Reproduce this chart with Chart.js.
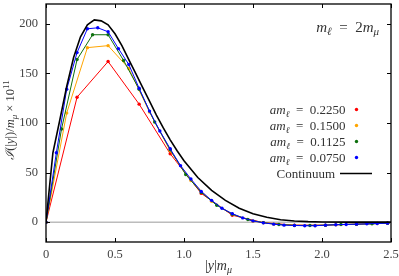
<!DOCTYPE html>
<html>
<head>
<meta charset="utf-8">
<script src="https://cdn.jsdelivr.net/npm/chart.js@4.4.0/dist/chart.umd.min.js"></script>
<style>
  html, body { margin: 0; padding: 0; background: #fff; }
</style>
</head>
<body>
<canvas id="myChart" width="399" height="276"></canvas>
<script>
const xTicks = [0, 0.5, 1, 1.5, 2, 2.5];
const yTicks = [0, 50, 100, 150, 200];
const seriesNames = ['0.2250', '0.1500', '0.1125', '0.0750'];
const seriesColors = ['#ff0000', '#ffa500', '#0d700d', '#0000ff'];

// am = 0.2250
const redX = [0, 0.225, 0.45, 0.675, 0.9, 1.125, 1.35, 1.575, 1.8, 2.025, 2.25, 2.475];
const redY = [0, 126, 162, 119, 69, 29, 7, -0.5, -3, -3, -2, -1];
// am = 0.1500
const orangeX = [0, 0.15, 0.3, 0.45, 0.6, 0.75, 0.9, 1.05, 1.2, 1.35, 1.5, 1.65, 1.8, 1.95, 2.1, 2.25, 2.4];
const orangeY = [0, 110, 176, 178, 155, 111, 72, 42, 21, 8, 1, -2, -3.2, -3.4, -2.6, -2, -1.3];
// am = 0.1125
const greenX = [0, 0.1125, 0.225, 0.3375, 0.45, 0.5625, 0.675, 0.7875, 0.9, 1.0125, 1.125, 1.2375,
                1.35, 1.4625, 1.575, 1.6875, 1.8, 1.9125, 2.025, 2.1375, 2.25, 2.3625, 2.475];
const greenY = [0, 94, 164, 189, 189, 163, 134, 101, 73, 48, 30, 17,
                8, 2.7, -0.5, -2.3, -3.2, -3.3, -3, -2.3, -2, -1.7, -1];
// am = 0.0750
const blueX = [0, 0.075, 0.15, 0.225, 0.3, 0.375, 0.45, 0.525, 0.6, 0.675, 0.75, 0.825,
               0.9, 0.975, 1.05, 1.125, 1.2, 1.275, 1.35, 1.425, 1.5, 1.575, 1.65, 1.725,
               1.8, 1.875, 1.95, 2.025, 2.1, 2.175, 2.25, 2.325, 2.4, 2.475];
const blueY = [0, 70, 134, 171, 195, 196, 192, 175, 159, 135, 112, 92,
               74, 57, 43.5, 31, 22, 14, 8.6, 4.3, 1.3, -0.7, -2, -3,
               -3.3, -3.6, -3.6, -3, -2.6, -2.3, -2, -1.7, -1.3, -1];
// continuum
const contX = [0, 0.05, 0.1, 0.15, 0.2, 0.25, 0.3, 0.35, 0.4, 0.45, 0.5, 0.55, 0.6, 0.65, 0.7,
               0.75, 0.8, 0.85, 0.9, 0.95, 1.0, 1.1, 1.2, 1.3, 1.4, 1.5, 1.6, 1.7, 1.8, 1.9,
               2.0, 2.2, 2.5];
const contY = [0, 70, 103, 137, 166, 187, 199, 204, 203, 199, 190, 178, 164, 150, 136,
               122, 108, 95, 83, 72, 62, 45, 32, 22, 14, 8.5, 5, 2.5, 1.2, 0.5,
               0.2, 0, 0];
const zeroX = [0, 2.5];
const zeroY = [0, 0];

const SERIF = '"Liberation Serif", "DejaVu Serif", serif';
const EQ = '\u2002=\u2002';

pairs = (xs, ys) => xs.map((x, i) => ({ x: x, y: ys[i] }));

function partFont(kind, size) {
    if (kind === 'i') return 'italic ' + size + 'px ' + SERIF;
    if (kind === 'sub') return 'italic ' + Math.round(size * 0.7) + 'px ' + SERIF;
    if (kind === 'sup') return Math.round(size * 0.7) + 'px ' + SERIF;
    return size + 'px ' + SERIF;
}

function drawRich(ctx, parts, x, y, size, align) {
    let w = 0;
    parts.forEach(p => { ctx.font = partFont(p[1], size); w += ctx.measureText(p[0]).width; });
    let cx = align === 'right' ? x - w : (align === 'center' ? x - w / 2 : x);
    ctx.textAlign = 'left';
    ctx.textBaseline = 'alphabetic';
    parts.forEach(p => {
        ctx.font = partFont(p[1], size);
        let dy = p[1] === 'sub' ? size * 0.22 : (p[1] === 'sup' ? -size * 0.4 : 0);
        ctx.fillText(p[0], cx, y + dy);
        cx += ctx.measureText(p[0]).width;
    });
}

const decor = {
    id: 'decor',
    afterDraw(chart) {
        const ctx = chart.ctx;
        const a = chart.chartArea;
        const xs = chart.scales.x, ys = chart.scales.y;
        ctx.save();
        // frame
        ctx.strokeStyle = '#000';
        ctx.lineWidth = 1.3;
        ctx.strokeRect(a.left, a.top, a.right - a.left, a.bottom - a.top);
        // inward ticks
        ctx.lineWidth = 1;
        ctx.beginPath();
        xTicks.forEach(v => {
            let px = Math.round(xs.getPixelForValue(v)) + 0.5;
            ctx.moveTo(px, a.bottom); ctx.lineTo(px, a.bottom - 4);
            ctx.moveTo(px, a.top); ctx.lineTo(px, a.top + 4);
        });
        yTicks.forEach(v => {
            let py = Math.round(ys.getPixelForValue(v)) + 0.5;
            ctx.moveTo(a.left, py); ctx.lineTo(a.left + 4, py);
            ctx.moveTo(a.right, py); ctx.lineTo(a.right - 4, py);
        });
        ctx.stroke();

        ctx.fillStyle = '#333';
        // annotation
        drawRich(ctx, [['m', 'i'], ['ℓ', 'sub'], [EQ + '2', 'r'], ['m', 'i'], ['μ', 'sub']], 379, 32, 15, 'right');

        // legend
        seriesNames.forEach((name, i) => {
            let cy = 109.5 + i * 16;
            ctx.fillStyle = '#333';
            drawRich(ctx, [['am', 'i'], ['ℓ', 'sub'], [EQ + name, 'r']], 345.5, cy + 4.5, 13, 'right');
            ctx.fillStyle = seriesColors[i];
            ctx.beginPath();
            ctx.arc(356.5, cy, 1.7, 0, Math.PI * 2);
            ctx.fill();
        });
        ctx.fillStyle = '#333';
        drawRich(ctx, [['Continuum', 'r']], 335, 173.5 + 4.5, 13, 'right');
        ctx.strokeStyle = '#000';
        ctx.lineWidth = 1.5;
        ctx.beginPath();
        ctx.moveTo(340, 173.5); ctx.lineTo(372, 173.5);
        ctx.stroke();

        // axis titles
        ctx.fillStyle = '#333';
        drawRich(ctx, [['|', 'r'], ['y', 'i'], ['|', 'r'], ['m', 'i'], ['μ', 'sub']], (a.left + a.right) / 2, 270, 14, 'center');
        ctx.translate(14, (a.top + a.bottom) / 2 - 3);
        ctx.rotate(-Math.PI / 2);
        drawRich(ctx, [['ℐ', 'i'], ['(|', 'r'], ['y', 'i'], ['|)/', 'r'], ['m', 'i'], ['μ', 'sub'],
                       [' × 10', 'r'], ['11', 'sup']], 0, 0, 12.5, 'center');
        ctx.restore();
    }
};

const ctx = document.getElementById('myChart').getContext('2d');
new Chart(ctx, {
    type: 'scatter',
    data: {
        datasets: [{
            label: 'Continuum',
            data: pairs(contX, contY),
            showLine: true,
            borderColor: '#000',
            borderWidth: 1.6,
            pointRadius: 0,
            order: 0
        }, {
            label: 'am = ' + seriesNames[3],
            data: pairs(blueX, blueY),
            showLine: true,
            borderColor: seriesColors[3],
            backgroundColor: seriesColors[3],
            borderWidth: 1,
            pointRadius: 1.7,
            pointBorderWidth: 0,
            order: 1
        }, {
            label: 'am = ' + seriesNames[2],
            data: pairs(greenX, greenY),
            showLine: true,
            borderColor: seriesColors[2],
            backgroundColor: seriesColors[2],
            borderWidth: 1,
            pointRadius: 1.7,
            pointBorderWidth: 0,
            order: 2
        }, {
            label: 'am = ' + seriesNames[1],
            data: pairs(orangeX, orangeY),
            showLine: true,
            borderColor: seriesColors[1],
            backgroundColor: seriesColors[1],
            borderWidth: 1,
            pointRadius: 1.7,
            pointBorderWidth: 0,
            order: 3
        }, {
            label: 'am = ' + seriesNames[0],
            data: pairs(redX, redY),
            showLine: true,
            borderColor: seriesColors[0],
            backgroundColor: seriesColors[0],
            borderWidth: 1,
            pointRadius: 1.7,
            pointBorderWidth: 0,
            order: 4
        }, {
            label: 'zero',
            data: pairs(zeroX, zeroY),
            showLine: true,
            borderColor: '#999',
            borderWidth: 1,
            pointRadius: 0,
            order: 5
        }]
    },
    options: {
        responsive: false,
        animation: false,
        layout: { padding: { top: 1, right: 8, left: 0, bottom: 0 } },
        plugins: { legend: { display: false }, tooltip: { enabled: false } },
        scales: {
            x: {
                type: 'linear',
                min: 0,
                max: 2.5,
                afterBuildTicks: axis => { axis.ticks = xTicks.map(v => ({ value: v })); },
                afterFit: axis => { axis.height = 34; axis.paddingLeft = 0; axis.paddingRight = 0; },
                grid: { display: false, drawTicks: false },
                border: { display: false },
                ticks: { font: { family: SERIF, size: 12.5 }, color: '#444', padding: 5, maxRotation: 0, autoSkip: false }
            },
            y: {
                type: 'linear',
                min: -20,
                max: 220,
                afterBuildTicks: axis => { axis.ticks = yTicks.map(v => ({ value: v })); },
                afterFit: axis => { axis.width = 46; axis.paddingTop = 0; axis.paddingBottom = 0; },
                grid: { display: false, drawTicks: false },
                border: { display: false },
                ticks: { font: { family: SERIF, size: 12.5 }, color: '#444', padding: 8 }
            }
        }
    },
    plugins: [decor]
});
</script>
</body>
</html>
